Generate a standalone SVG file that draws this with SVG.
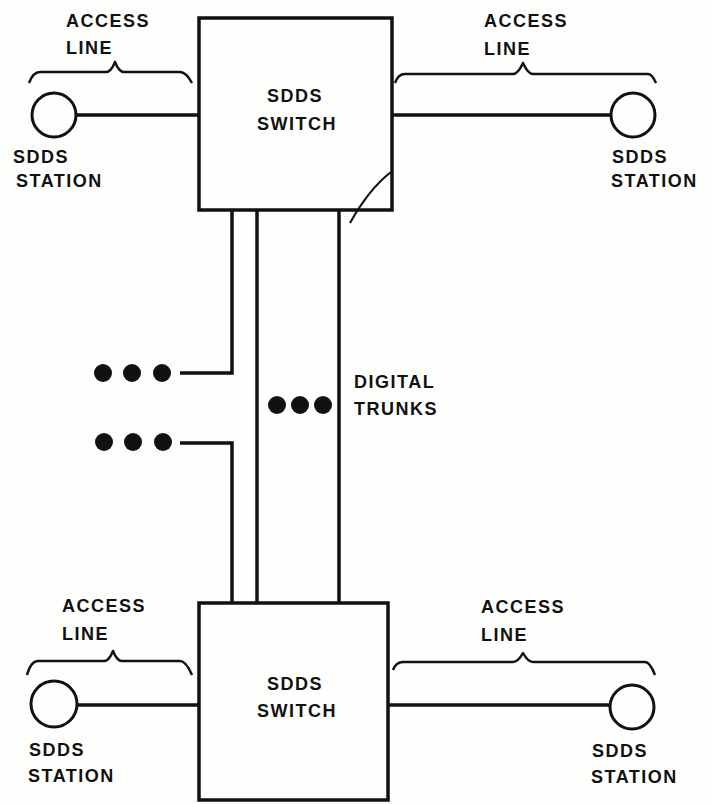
<svg xmlns="http://www.w3.org/2000/svg" width="712" height="804" viewBox="0 0 712 804">
<style>
.bg{fill:#fefefc}
.box{fill:none;stroke:#111;stroke-width:3.5}
.ln{fill:none;stroke:#111;stroke-width:3.5;stroke-linejoin:miter}
.br{fill:none;stroke:#111;stroke-width:2.5;stroke-linejoin:round}
.sl{fill:none;stroke:#111;stroke-width:2.2}
.st{fill:#fefefc;stroke:#111;stroke-width:3}
.dot{fill:#111}
text{font-family:"Liberation Sans",Arial,sans-serif;font-weight:bold;font-size:18px;fill:#111;letter-spacing:1.5px}
</style>
<rect class="bg" x="0" y="0" width="712" height="804"/>
<g id="connectors">
<path class="ln" d="M77,115 H199"/>
<path class="ln" d="M392,115 H611"/>
<path class="ln" d="M78,705 H199"/>
<path class="ln" d="M388,705 H609"/>
<path class="ln" d="M232,210 V373 H180"/>
<path class="ln" d="M180,443 H232 V603"/>
<path class="ln" d="M257,210 V603"/>
<path class="ln" d="M339,210 V603"/>
<path class="sl" d="M391,172 Q369,189 350,223"/>
</g>
<g id="switch-top">
<rect class="box" x="199" y="18" width="193" height="192"/>
<text x="267" y="102">SDDS</text>
<text x="257" y="130">SWITCH</text>
</g>
<g id="switch-bottom">
<rect class="box" x="199" y="603" width="189" height="197"/>
<text x="267" y="690">SDDS</text>
<text x="257" y="717">SWITCH</text>
</g>
<g id="station-tl">
<circle class="st" cx="54" cy="115" r="22"/>
<text x="13" y="163">SDDS</text>
<text x="16" y="187">STATION</text>
</g>
<g id="station-tr">
<circle class="st" cx="633" cy="115" r="22"/>
<text x="612" y="163">SDDS</text>
<text x="611" y="187">STATION</text>
</g>
<g id="station-bl">
<circle class="st" cx="54" cy="704" r="23"/>
<text x="29" y="756">SDDS</text>
<text x="28" y="782">STATION</text>
</g>
<g id="station-br">
<circle class="st" cx="632" cy="707" r="22"/>
<text x="592" y="757">SDDS</text>
<text x="591" y="783">STATION</text>
</g>
<g id="access-tl">
<path class="br" d="M29,83 Q33,72 40,72 H106 Q111,72 115,62 Q119,72 124,72 H180 Q186,72 192,83"/>
<text x="66" y="27">ACCESS</text>
<text x="66" y="54">LINE</text>
</g>
<g id="access-tr">
<path class="br" d="M395,83 Q398,74 405,74 H513 Q518,74 523,63 Q528,74 533,74 H648 Q652,74 656,83"/>
<text x="484" y="27">ACCESS</text>
<text x="484" y="55">LINE</text>
</g>
<g id="access-bl">
<path class="br" d="M27,675 Q31,661 38,661 H104 Q109,661 113,651 Q117,661 122,661 H180 Q186,661 192,675"/>
<text x="62" y="612">ACCESS</text>
<text x="62" y="640">LINE</text>
</g>
<g id="access-br">
<path class="br" d="M393,670 Q396,662 403,662 H513 Q518,662 523,653 Q528,662 533,662 H645 Q650,662 655,675"/>
<text x="481" y="613">ACCESS</text>
<text x="481" y="641">LINE</text>
</g>
<g id="trunks-label">
<circle class="dot" cx="277" cy="405" r="9"/>
<circle class="dot" cx="300" cy="405" r="9"/>
<circle class="dot" cx="323" cy="405" r="9"/>
<text x="354" y="388">DIGITAL</text>
<text x="354" y="415">TRUNKS</text>
</g>
<g id="dots-upper">
<circle class="dot" cx="103" cy="373" r="9"/>
<circle class="dot" cx="132" cy="373" r="9"/>
<circle class="dot" cx="162" cy="373" r="9"/>
</g>
<g id="dots-lower">
<circle class="dot" cx="104" cy="442" r="9"/>
<circle class="dot" cx="133" cy="442" r="9"/>
<circle class="dot" cx="163" cy="442" r="9"/>
</g>
</svg>
